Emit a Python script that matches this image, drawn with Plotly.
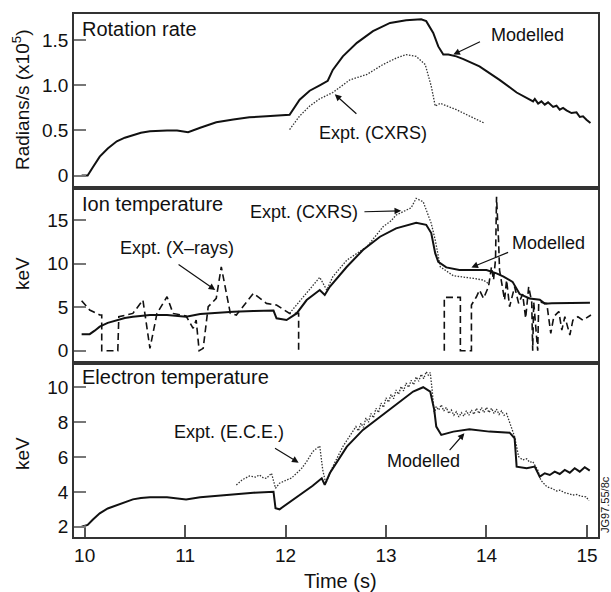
import plotly.graph_objects as go
from plotly.subplots import make_subplots

# ---------------- data ----------------
# Panel 1: rotation rate (x10^5 rad/s)
rot_model_t = [9.97, 10.03, 10.08, 10.15, 10.23, 10.32, 10.40, 10.48, 10.56, 10.65, 10.74, 10.82, 10.92, 11.03,
               11.15, 11.31, 11.48, 11.64, 11.81,
               12.04, 12.14, 12.24, 12.34, 12.42, 12.47, 12.57, 12.71, 12.87, 13.04, 13.20, 13.35, 13.40, 13.47,
               13.52, 13.57, 13.62, 13.70, 13.77, 13.93, 14.13, 14.30, 14.431, 14.464, 14.481, 14.514, 14.547,
               14.580, 14.613, 14.663, 14.697, 14.729, 14.762, 14.796, 14.846, 14.896, 14.929, 14.961, 14.995, 15.035]
rot_model_v = [0.0, 0.0, 0.09, 0.21, 0.30, 0.38, 0.42, 0.45, 0.475, 0.49, 0.497, 0.50, 0.50, 0.48,
               0.53, 0.59, 0.62, 0.645, 0.656,
               0.674, 0.84, 0.94, 1.00, 1.05, 1.17, 1.32, 1.47, 1.60, 1.69, 1.72, 1.73, 1.71, 1.58,
               1.43, 1.34, 1.34, 1.32, 1.29, 1.21, 1.06, 0.92, 0.841, 0.822, 0.849, 0.797, 0.822,
               0.786, 0.811, 0.760, 0.774, 0.730, 0.749, 0.722, 0.693, 0.700, 0.649, 0.656, 0.619, 0.582]
rot_cxrs_t = [12.04, 12.14, 12.24, 12.34, 12.47, 12.64, 12.81, 12.97, 13.10, 13.20, 13.30, 13.39, 13.45,
              13.49, 13.54, 13.70, 13.83, 13.98]
rot_cxrs_v = [0.51, 0.66, 0.77, 0.85, 0.92, 1.06, 1.12, 1.23, 1.30, 1.34, 1.32, 1.23, 0.99,
              0.77, 0.80, 0.73, 0.66, 0.58]

# Panel 2: ion temperature (keV)
ion_model_t = [9.97, 10.05, 10.10, 10.15, 10.23, 10.32, 10.40, 10.48, 10.56, 10.65, 10.82, 11.01, 11.15, 11.31,
               11.48, 11.68, 11.88,
               11.91, 12.01, 12.11, 12.21, 12.34, 12.39, 12.44, 12.61, 12.77, 12.94, 13.10, 13.30, 13.40,
               13.45, 13.49, 13.52, 13.60, 13.73, 14.00, 14.10, 14.17, 14.26, 14.33, 14.43, 14.53, 14.58,
               14.65, 14.80, 15.03]
ion_model_v = [1.9, 1.9, 2.3, 2.76, 3.2, 3.52, 3.75, 3.9, 4.0, 4.1, 4.1, 3.9, 4.2, 4.36,
               4.47, 4.55, 4.6,
               3.72, 3.52, 4.28, 5.81, 6.96, 6.39, 7.34, 9.63, 11.55, 13.08, 14.04, 14.68, 14.45,
               13.5, 11.17, 10.2, 9.56, 9.25, 9.25, 8.87, 8.5, 7.9, 6.5, 6.0, 5.85, 5.4,
               5.45, 5.5, 5.5]
ion_cxrs_t = [12.04, 12.14, 12.21, 12.34, 12.41, 12.47, 12.61, 12.81, 12.97, 13.05, 13.10, 13.20, 13.25,
              13.30, 13.37, 13.45, 13.49, 13.54, 13.67, 13.87, 13.97, 14.02]
ion_cxrs_v = [4.3, 5.7, 6.58, 8.42, 6.96, 8.49, 10.4, 11.93, 14.22, 14.9, 15.56, 16.13, 16.4,
              17.48, 17.09, 14.61, 12.7, 9.63, 8.6, 8.3, 8.1, 7.7]
ion_xray_t = [9.97, 10.05, 10.15, 10.17, 10.17, 10.33, 10.34, 10.48, 10.58, 10.65, 10.72, 10.82, 10.88,
              11.01, 11.08, 11.11, 11.14, 11.18, 11.23, 11.31, 11.36, 11.45, 11.51, 11.68, 11.81, 11.91,
              12.04, 12.13, 12.13, None,
              13.58, 13.58, 13.74, 13.74, 13.85, 13.85, 13.90, 13.93, 13.97, 14.02, 14.05, 14.07, 14.09,
              14.10, 14.12, 14.13, 14.18, 14.20, 14.23, 14.28, 14.32, 14.36, 14.39, 14.42, 14.45, 14.46,
              14.47, 14.51, 14.52, 14.60, 14.64, 14.67, 14.72, 14.75, 14.78, 14.83, 14.86, 14.91, 14.96, 15.04]
ion_xray_v = [5.73, 4.67, 4.1, 4.1, 0.0, 0.0, 3.9, 4.28, 5.81, 0.27, 4.28, 6.19, 4.28,
              3.98, 2.57, 3.52, 0.0, 0.27, 5.05, 6.0, 9.63, 4.28, 4.1, 6.58, 5.43, 5.24,
              4.28, 4.28, 0.0, None,
              0.0, 6.12, 6.12, 0.0, 0.0, 5.24, 6.19, 6.96, 6.0, 7.34, 9.63, 8.1, 10.5,
              17.66, 12.7, 9.25, 5.81, 8.1, 5.05, 7.34, 5.43, 6.5, 3.72, 7.34, 5.6, 0.0,
              5.6, 0.0, 5.6, 5.43, 2.0, 3.9, 4.5, 2.37, 3.9, 1.8, 3.5, 3.9, 3.5, 4.1]

# Panel 3: electron temperature (keV)
ele_model_t = [9.97, 10.03, 10.08, 10.15, 10.23, 10.32, 10.40, 10.48, 10.56, 10.65, 10.82, 11.01, 11.15,
               11.31, 11.48, 11.68, 11.88,
               11.90, 11.94, 12.04, 12.14, 12.27, 12.36, 12.39, 12.44, 12.61, 12.77, 12.94, 13.10, 13.27,
               13.37, 13.44, 13.48, 13.50, 13.55, 13.67, 13.83, 14.03, 14.23, 14.28, 14.30, 14.40, 14.48,
               14.530, 14.580, 14.630, 14.679, 14.729, 14.779, 14.829, 14.878, 14.928, 14.978, 15.028]
ele_model_v = [2.0, 2.1, 2.4, 2.77, 3.05, 3.25, 3.43, 3.57, 3.65, 3.69, 3.69, 3.57, 3.69,
               3.78, 3.88, 3.95, 4.01,
               3.06, 3.0, 3.4, 3.85, 4.35, 4.78, 4.40, 5.07, 6.6, 7.56, 8.32, 8.99, 9.76,
               10.01, 9.76, 8.71, 7.75, 7.27, 7.46, 7.60, 7.46, 7.40, 7.08, 5.45, 5.36, 5.45,
               4.874, 5.069, 4.971, 5.161, 5.029, 5.259, 5.103, 5.356, 5.161, 5.414, 5.218]
ele_ece_t = [11.51, 11.57, 11.64, 11.70, 11.74, 11.78, 11.81, 11.86, 11.90, 11.94, 12.01, 12.06, 12.11,
             12.16, 12.21, 12.27, 12.34, 12.37, 12.40, 12.47, 12.57, 12.67,
             12.70, 12.725, 12.75, 12.775, 12.80, 12.825, 12.85, 12.875, 12.90, 12.925, 12.95, 12.975,
             13.00, 13.025, 13.05, 13.075, 13.10, 13.125, 13.15, 13.175, 13.20, 13.225, 13.25, 13.275,
             13.30, 13.325, 13.35, 13.375, 13.40, 13.42, 13.44, 13.46, 13.48,
             13.50, 13.525, 13.55, 13.575, 13.60, 13.625, 13.65, 13.675, 13.70, 13.725, 13.75, 13.775,
             13.80, 13.825, 13.85, 13.875, 13.90, 13.925, 13.95, 13.975, 14.00, 14.025, 14.05, 14.075,
             14.10, 14.125, 14.15, 14.175, 14.20, 14.23, 14.28, 14.32, 14.36, 14.40, 14.43, 14.46, 14.51,
             14.54, 14.60, 14.65, 14.70, 14.73, 14.78, 14.82, 14.86, 14.90, 14.94, 14.99, 15.02]
ele_ece_v = [4.40, 4.70, 4.91, 4.85, 4.97, 4.80, 4.78, 5.07, 4.21, 4.50, 4.68, 4.80, 5.07,
             5.35, 5.74, 6.31, 6.64, 5.26, 4.49, 5.45, 6.60, 7.50,
             7.75, 7.50, 7.95, 7.70, 8.25, 8.00, 8.50, 8.25, 8.80, 8.55, 9.10, 8.85,
             9.40, 9.15, 9.60, 9.35, 9.85, 9.60, 10.05, 9.80, 10.25, 10.00, 10.40, 10.15,
             10.60, 10.35, 10.75, 10.50, 10.90, 10.70, 10.85, 9.80, 8.50,
             8.90, 8.70, 9.00, 8.65, 8.85, 8.50, 8.70, 8.40, 8.60, 8.30, 8.55, 8.35,
             8.65, 8.40, 8.70, 8.45, 8.80, 8.50, 8.85, 8.55, 8.85, 8.55, 8.80, 8.50,
             8.75, 8.45, 8.65, 8.40, 8.50, 8.03, 7.17, 6.02, 5.83, 5.90, 5.70, 5.74, 5.26,
             4.68, 4.30, 4.20, 4.05, 4.10, 3.95, 3.90, 3.82, 3.85, 3.75, 3.72, 3.50]

x_ticks = [10, 11, 12, 13, 14, 15]
y1_ticks = [0, 0.5, 1.0, 1.5]
y1_labels = ["0", "0.5", "1.0", "1.5"]
y2_ticks = [0, 5, 10, 15]
y3_ticks = [2, 4, 6, 8, 10]

# ---------------- figure ----------------
W, H = 611, 592
L, R, T, B = 74, 598, 14, 537
FONT = "Liberation Sans, Arial, Helvetica, sans-serif"
INK = "#111111"

fig = make_subplots(rows=3, cols=1, shared_xaxes=True, vertical_spacing=0)

solid = dict(color=INK, width=2.0)
dotted = dict(color="#333333", width=1.3, dash="1.5px,1.5px")
dashed = dict(color=INK, width=1.6, dash="7px,4px")

fig.add_trace(go.Scatter(x=rot_model_t, y=rot_model_v, mode="lines", line=solid), row=1, col=1)
fig.add_trace(go.Scatter(x=rot_cxrs_t, y=rot_cxrs_v, mode="lines", line=dotted), row=1, col=1)
fig.add_trace(go.Scatter(x=ion_xray_t, y=ion_xray_v, mode="lines", line=dashed, connectgaps=False), row=2, col=1)
fig.add_trace(go.Scatter(x=ion_cxrs_t, y=ion_cxrs_v, mode="lines", line=dotted), row=2, col=1)
fig.add_trace(go.Scatter(x=ion_model_t, y=ion_model_v, mode="lines", line=solid), row=2, col=1)
fig.add_trace(go.Scatter(x=ele_ece_t, y=ele_ece_v, mode="lines", line=dotted), row=3, col=1)
fig.add_trace(go.Scatter(x=ele_model_t, y=ele_model_v, mode="lines", line=solid), row=3, col=1)

pw = R - L
ph = B - T
def py(p):
    return (B - p) / ph
def pxp(p):
    return (p - L) / pw

d1 = [py(188), 1.0]
d2 = [py(363), py(188)]
d3 = [0.0, py(363)]

xr = [9.894, 15.11]
frame = dict(showline=True, linecolor="#333333", linewidth=1.5, mirror=True, showgrid=False, zeroline=False)
tickfont = dict(family=FONT, size=19, color=INK)

for i in (1, 2):
    fig.update_xaxes(range=xr, ticks="", showticklabels=False, **frame, row=i, col=1)
fig.update_xaxes(range=xr, tickvals=x_ticks, ticks="inside", ticklen=12, tickwidth=1.5, tickcolor="#555555",
                 tickfont=tickfont, **frame, row=3, col=1)

yt = dict(ticks="inside", ticklen=12, tickwidth=1.5, tickcolor="#777777", tickfont=tickfont)
fig.update_yaxes(range=[-0.137, 1.789], tickvals=y1_ticks, ticktext=y1_labels, domain=d1, **yt, **frame, row=1, col=1)
fig.update_yaxes(range=[-1.41, 18.67], tickvals=y2_ticks, domain=d2, **yt, **frame, row=2, col=1)
fig.update_yaxes(range=[1.41, 11.40], tickvals=y3_ticks, domain=d3, **yt, **frame, row=3, col=1)

ann = []
def text(s, xpx, ypx, size=18, xanchor="center", angle=0):
    ann.append(dict(text=s, x=pxp(xpx), y=py(ypx), xref="paper", yref="paper", showarrow=False,
                    xanchor=xanchor, yanchor="middle", textangle=angle,
                    font=dict(family=FONT, size=size, color=INK)))

def arrow(xa, ya, tipx, tipy, tailx, taily):
    ann.append(dict(text="", x=tipx, y=tipy, ax=tailx, ay=taily, xref=xa, yref=ya, axref=xa, ayref=ya,
                    showarrow=True, arrowhead=2, arrowsize=1.1, arrowwidth=1.2, arrowcolor=INK,
                    standoff=0, startstandoff=0))

# panel titles
text("Rotation rate", 80, 29, size=20, xanchor="left")
text("Ion temperature", 80, 204, size=20, xanchor="left")
text("Electron temperature", 80, 377, size=20, xanchor="left")
# axis titles
text("Radians/s (x10<sup>5</sup>)", 21, 100, size=19, angle=-90)
text("keV", 22, 274, size=19, angle=-90)
text("keV", 22, 454, size=19, angle=-90)
text("Time (s)", 340, 581, size=20)
text("JG97.55/8c", 605, 505, size=11, angle=-90)

# panel 1 labels
text("Modelled", 527, 35)
arrow("x", "y", 13.67, 1.34, 13.95, 1.49)
text("Expt. (CXRS)", 373, 133)
arrow("x", "y", 12.49, 0.90, 12.72, 0.67)
# panel 2 labels
text("Expt. (X\u2013rays)", 177, 248)
arrow("x2", "y2", 11.30, 6.96, 10.92, 10.0)
text("Expt. (CXRS)", 304, 212)
arrow("x2", "y2", 13.15, 16.05, 12.77, 15.94)
text("Modelled", 548, 243)
arrow("x2", "y2", 13.85, 9.56, 14.23, 11.35)
# panel 3 labels
text("Expt. (E.C.E.)", 229, 432)
arrow("x3", "y3", 12.13, 5.68, 11.88, 6.56)
text("Modelled", 423, 461)
arrow("x3", "y3", 13.78, 7.37, 13.62, 6.31)

fig.update_layout(width=W, height=H, margin=dict(l=L, r=W - R, t=T, b=H - B),
                  paper_bgcolor="white", plot_bgcolor="white", showlegend=False,
                  annotations=ann, font=dict(family=FONT, color=INK))

fig.write_html("out.html")
